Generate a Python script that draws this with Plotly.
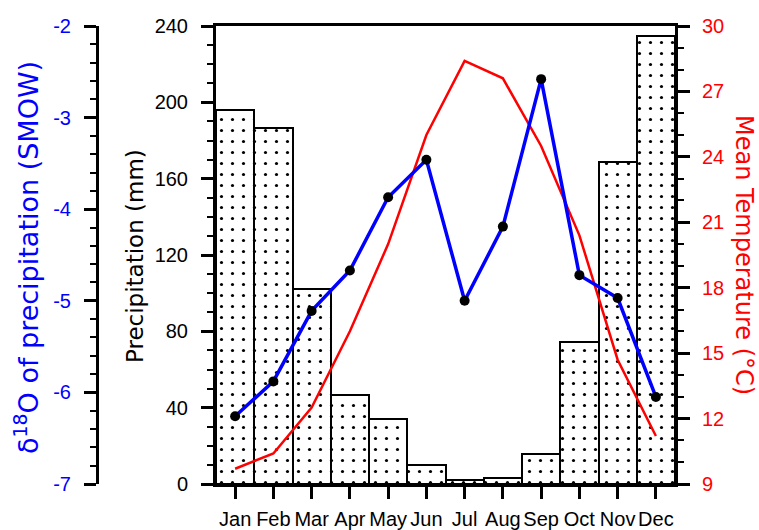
import plotly.graph_objects as go

months = ["Jan", "Feb", "Mar", "Apr", "May", "Jun", "Jul", "Aug", "Sep", "Oct", "Nov", "Dec"]
precip = [196, 186.5, 102, 46.5, 34, 10, 2, 3, 15.5, 74.5, 168.5, 235]
temp = [9.7, 10.4, 12.5, 16.0, 20.0, 25.0, 28.4, 27.6, 24.5, 20.4, 14.7, 11.2]
d18o = [-6.26, -5.88, -5.11, -4.67, -3.87, -3.46, -5.0, -4.19, -2.58, -4.72, -4.97, -6.05]
d18o_ticks = [-7, -6, -5, -4, -3, -2]
d18o_labels = ["-7", "-6", "-5", "-4", "-3", "-2"]

W, H = 759, 530
ML, MR, MT, MB = 20, 84, 26, 46
PW = W - ML - MR
PH = H - MT - MB


def px2x(px):
    return (px - ML) / PW


def px2y(py):
    return (H - MB - py) / PH


FONT = "Liberation Sans, Arial, sans-serif"
TFONT = "DejaVu Sans, sans-serif"

fig = go.Figure()
fig.add_trace(go.Bar(
    x=months, y=precip, width=1,
    marker=dict(color="white", line=dict(color="black", width=2),
                pattern=dict(shape=".", fgcolor="black", bgcolor="white", fgopacity=1,
                             size=11, solidity=0.065, fillmode="replace")),
    showlegend=False))
fig.add_trace(go.Scatter(
    x=months, y=temp, yaxis="y2", mode="lines",
    line=dict(color="red", width=2.5), showlegend=False))
fig.add_trace(go.Scatter(
    x=months, y=d18o, yaxis="y3", mode="lines+markers",
    line=dict(color="blue", width=3.5),
    marker=dict(color="black", size=10), showlegend=False))

axis_common = dict(showline=True, linecolor="black", linewidth=3, ticks="outside", automargin=False,
                   ticklen=12, tickwidth=3, tickcolor="black", showgrid=False, zeroline=False)

fig.update_layout(
    width=W, height=H,
    margin=dict(l=ML, r=MR, t=MT, b=MB),
    paper_bgcolor="white", plot_bgcolor="white",
    font=dict(family=FONT, color="black"),
    bargap=0,
    xaxis=dict(domain=[px2x(216), 1], range=[-0.5, 11.5], mirror=True,
               tickfont=dict(size=20), ticklabelstandoff=3, **axis_common),
    yaxis=dict(range=[0, 240], dtick=40, tickfont=dict(size=20), ticklabelstandoff=9,
               minor=dict(dtick=10, ticks="outside", ticklen=6, tickwidth=2, tickcolor="black"),
               **axis_common),
    yaxis2=dict(range=[9, 30], dtick=3, overlaying="y", side="right", anchor="x",
                tickfont=dict(size=20, color="red"), ticklabelstandoff=8,
                minor=dict(dtick=1, ticks="outside", ticklen=6, tickwidth=2, tickcolor="black"),
                **axis_common),
    yaxis3=dict(range=[-7, -2], tickvals=d18o_ticks, ticktext=d18o_labels, overlaying="y", side="left",
                anchor="free", position=px2x(97), tickfont=dict(size=20, color="blue"), ticklabelstandoff=9,
                minor=dict(dtick=0.2, ticks="outside", ticklen=6, tickwidth=2, tickcolor="black"),
                **axis_common),
    annotations=[
        dict(text="Precipitation (mm)", xref="paper", yref="paper", x=px2x(135), y=px2y(256),
             textangle=-90, showarrow=False, font=dict(family=TFONT, size=23, color="black"),
             xanchor="center", yanchor="middle"),
        dict(text="δ<sup>18</sup>O of precipitation (SMOW)", xref="paper", yref="paper", x=px2x(26), y=px2y(258),
             textangle=-90, showarrow=False, font=dict(family=TFONT, size=27, color="blue"),
             xanchor="center", yanchor="middle"),
        dict(text="Mean Temperature (°C)", xref="paper", yref="paper", x=px2x(744), y=px2y(255),
             textangle=90, showarrow=False, font=dict(family=TFONT, size=24, color="red"),
             xanchor="center", yanchor="middle"),
    ],
)

fig.write_html("out.html")
